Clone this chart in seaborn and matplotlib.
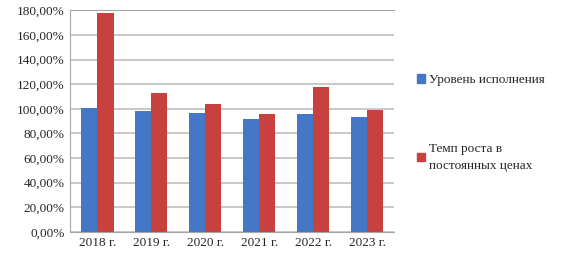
import matplotlib
matplotlib.use("Agg")
import matplotlib.pyplot as plt
from matplotlib.ticker import FuncFormatter
from matplotlib.patches import Patch
import pandas as pd
import seaborn as sns

years = ["2018 г.", "2019 г.", "2020 г.", "2021 г.", "2022 г.", "2023 г."]
execution = [100.5, 98.5, 97.0, 91.5, 95.5, 93.0]
growth = [178.0, 112.5, 104.0, 96.0, 118.0, 99.0]
series_names = ["Уровень исполнения", "Темп роста в\nпостоянных ценах"]
colors = ["#4477C6", "#C9413E"]

df = pd.DataFrame({
    "year": years * 2,
    "value": execution + growth,
    "series": [series_names[0]] * len(years) + [series_names[1]] * len(years),
})

sns.set_style("white")
plt.rcParams["font.family"] = ["Liberation Serif", "DejaVu Serif"]

fig = plt.figure(figsize=(5.63, 2.6), dpi=100)
ax = fig.add_axes([0.125, 0.108, 0.575, 0.852])

sns.barplot(data=df, x="year", y="value", hue="series",
            palette=colors, saturation=1, width=0.6, gap=0.0,
            edgecolor="none", ax=ax, legend=False)

ax.set_ylim(0, 180)
ax.set_yticks(range(0, 181, 20))
ax.yaxis.set_major_formatter(FuncFormatter(lambda v, p: f"{v:.2f}%".replace(".", ",")))
ax.grid(axis="y", color="#BFBFBF", linewidth=1.2)
ax.set_axisbelow(True)
ax.set_xlabel("")
ax.set_ylabel("")
ax.tick_params(axis="both", labelsize=9.5, length=0, pad=4)
for s in ["left", "top", "bottom"]:
    ax.spines[s].set_color("#A6A6A6")
ax.spines["right"].set_visible(False)

handles = [Patch(color=c) for c in colors]
leg = fig.legend(handles, series_names, loc="upper left", bbox_to_anchor=(0.72, 0.76),
                 frameon=False, fontsize=9.5, handlelength=0.6, handleheight=0.6,
                 handletextpad=0.3, labelspacing=4.3)
for t in leg.get_texts():
    t.set_linespacing(1.5)

fig.savefig("out.png", dpi=100)
